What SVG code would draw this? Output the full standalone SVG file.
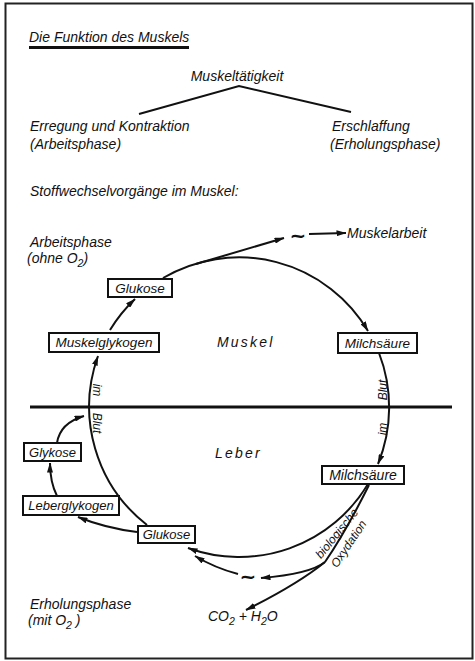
<svg xmlns="http://www.w3.org/2000/svg" width="475" height="661" viewBox="0 0 475 661">
  <defs>
    <marker id="ah" viewBox="0 0 10 6" refX="9.5" refY="3" markerWidth="10" markerHeight="6" markerUnits="userSpaceOnUse" orient="auto">
      <path d="M0,0 L10,3 L0,6 z" fill="#111"/>
    </marker>
    <style>
      .t { font-family: "Liberation Sans", Arial, sans-serif; font-style: italic; font-size: 14px; fill: #111; }
      .bt { font-size: 13.5px; }
      .sm { font-size: 12px; }
      .sp { letter-spacing: 2.2px; }
      .box { fill: #fff; stroke: #111; stroke-width: 2; }
      .ln { fill: none; stroke: #111; stroke-width: 2; }
      .arr { marker-end: url(#ah); }
      .sub { font-size: 10.5px; }
      .tilde { font-family: "DejaVu Sans", sans-serif; font-size: 20px; font-weight: bold; fill: #111; }
    </style>
  </defs>

  <rect x="0" y="0" width="475" height="661" fill="#fff"/>
  <!-- page frame -->
  <rect x="5.5" y="3.5" width="467" height="655" fill="none" stroke="#222" stroke-width="2"/>

  <!-- heading block -->
  <g id="title">
    <text class="t" x="29" y="42">Die Funktion des Muskels</text>
    <rect x="29" y="46" width="160" height="3" fill="#111"/>
  </g>
  <g id="muskeltaetigkeit">
    <text class="t" x="237" y="81" text-anchor="middle">Muskeltätigkeit</text>
  </g>
  <g id="arbeitsphase-top">
    <text class="t" x="30" y="131">Erregung und Kontraktion</text>
    <text class="t" x="30" y="149">(Arbeitsphase)</text>
  </g>
  <g id="erholungsphase-top">
    <text class="t" x="332" y="131">Erschlaffung</text>
    <text class="t" x="330" y="149">(Erholungsphase)</text>
  </g>
  <g id="stoffwechsel">
    <text class="t" x="30" y="196">Stoffwechselvorgänge im Muskel:</text>
  </g>

  <!-- phase captions -->
  <g id="arbeitsphase">
    <text class="t" x="30" y="247">Arbeitsphase</text>
    <text class="t" x="27" y="263">(ohne O<tspan class="sub" dy="4">2</tspan><tspan dy="-4">)</tspan></text>
  </g>
  <g id="erholungsphase">
    <text class="t" x="30" y="609">Erholungsphase</text>
    <text class="t" x="28" y="625">(mit O<tspan class="sub" dy="4">2</tspan><tspan dy="-4"> )</tspan></text>
  </g>

  <!-- organ labels -->
  <g id="muskel"><text class="t sp" x="217" y="347">Muskel</text></g>
  <g id="leber"><text class="t sp" x="215" y="458">Leber</text></g>

  <!-- boundary muscle / liver -->
  <line x1="30" y1="407" x2="452" y2="407" stroke="#111" stroke-width="3"/>

  <!-- connectors -->
  <g id="connectors">
    <!-- tree lines -->
    <path class="ln" d="M139 114 L239 86 L351 112"/>
    <!-- Muskelglykogen -> Glukose -->
    <path class="ln arr" d="M110 330 A150 150 0 0 1 135 299"/>
    <!-- Glukose -> Milchsäure -->
    <path class="ln arr" d="M163 278 A150 150 0 0 1 368 331"/>
    <!-- energy branch -->
    <path class="ln arr" d="M196 264 L284 238"/>
    <path class="ln arr" d="M309 234 L346 233"/>
    <!-- Milchsäure (Muskel) -> Milchsäure (Leber) -->
    <path class="ln arr" d="M379 353 A150 150 0 0 1 378 464"/>
    <!-- Milchsäure (Leber) -> Glukose -->
    <path class="ln arr" d="M368 484 A150 150 0 0 1 188 548"/>
    <!-- Glukose (Leber) -> Muskelglykogen -->
    <path class="ln arr" d="M147 525 A150 150 0 0 1 98 356"/>
    <!-- Glykose -> Blut -->
    <path class="ln arr" d="M57 443 Q60 423 84 416"/>
    <!-- Leberglykogen -> Glykose -->
    <path class="ln arr" d="M57 496 Q50 482 50 463"/>
    <!-- Glukose -> Leberglykogen -->
    <path class="ln arr" d="M137 532 Q105 528 78 517"/>
    <!-- biologische Oxydation -->
    <path class="ln" d="M369 485 Q345 533 325 562"/>
    <path class="ln arr" d="M325 562 Q310 574 261 578"/>
    <path class="ln arr" d="M325 562 Q298 584 246 610"/>
    <!-- energy -> Glukose -->
    <path class="ln arr" d="M238 574 Q215 568 195 556"/>
  </g>

  <!-- labels on connectors -->
  <g id="blut-left">
    <text class="t sm" transform="translate(93 390) rotate(90)" text-anchor="middle">im</text>
    <text class="t sm" transform="translate(93 423) rotate(90)" text-anchor="middle">Blut</text>
  </g>
  <g id="blut-right">
    <text class="t sm" transform="translate(387 390) rotate(-90)" text-anchor="middle">Blut</text>
    <text class="t sm" transform="translate(387 429) rotate(-90)" text-anchor="middle">im</text>
  </g>
  <g id="oxydation">
    <text class="t" style="font-size:12px" transform="translate(340 536) rotate(-51)" text-anchor="middle">biologische</text>
    <text class="t" style="font-size:12px" transform="translate(352 546) rotate(-56)" text-anchor="middle">Oxydation</text>
  </g>

  <!-- energy marks and products -->
  <g id="energie-muskel"><text class="tilde" x="298" y="242" text-anchor="middle">~</text></g>
  <g id="muskelarbeit"><text class="t" x="347" y="238">Muskelarbeit</text></g>
  <g id="energie-leber"><text class="tilde" x="248" y="583" text-anchor="middle">~</text></g>
  <g id="co2-h2o">
    <text class="t" x="208" y="621">CO<tspan class="sub" dy="4">2</tspan><tspan dy="-4"> + H</tspan><tspan class="sub" dy="4">2</tspan><tspan dy="-4">O</tspan></text>
  </g>

  <!-- substance boxes -->
  <g id="glukose-muskel">
    <rect class="box" x="108" y="279" width="64" height="18"/>
    <text class="t bt" x="140" y="293" text-anchor="middle">Glukose</text>
  </g>
  <g id="muskelglykogen">
    <rect class="box" x="49" y="333" width="110" height="19"/>
    <text class="t bt" x="104" y="347" text-anchor="middle">Muskelglykogen</text>
  </g>
  <g id="milchsaeure-muskel">
    <rect class="box" x="338" y="333" width="79" height="20"/>
    <text class="t bt" x="377.5" y="348" text-anchor="middle">Milchsäure</text>
  </g>
  <g id="milchsaeure-leber">
    <rect class="box" x="322" y="466" width="82" height="18"/>
    <text class="t" x="363" y="480" text-anchor="middle">Milchsäure</text>
  </g>
  <g id="glykose">
    <rect class="box" x="24" y="443" width="57" height="18"/>
    <text class="t" style="font-size:13px" x="52.5" y="457" text-anchor="middle">Glykose</text>
  </g>
  <g id="leberglykogen">
    <rect class="box" x="23" y="496" width="96" height="19"/>
    <text class="t" style="font-size:13px" x="71" y="510" text-anchor="middle">Leberglykogen</text>
  </g>
  <g id="glukose-leber">
    <rect class="box" x="138" y="526" width="57" height="17"/>
    <text class="t" style="font-size:13px" x="166.5" y="539" text-anchor="middle">Glukose</text>
  </g>
</svg>
